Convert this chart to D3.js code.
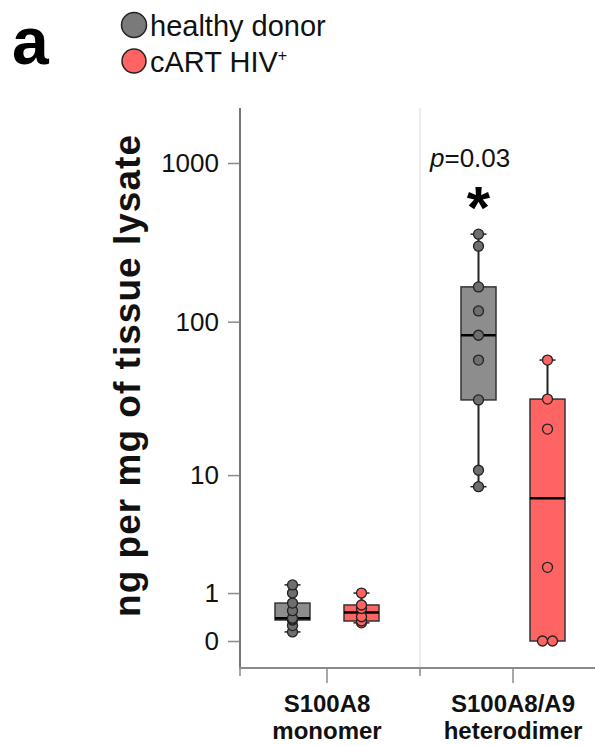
<!DOCTYPE html>
<html>
<head>
<meta charset="utf-8">
<script src="https://cdn.jsdelivr.net/npm/d3@7"></script>
<style>
  body { margin: 0; background: #fff; }
  svg { display: block; font-family: "Liberation Sans", Arial, Helvetica, sans-serif; }
</style>
</head>
<body>
<svg id="chart" width="595" height="746"></svg>
<script>
// ---- data ----
const categories = ["S100A8 monomer", "S100A8/A9 heterodimer"];
const categoryLines = [["S100A8", "monomer"], ["S100A8/A9", "heterodimer"]];
const groups = ["healthy donor", "cART HIV+"];
// ng per mg of tissue lysate, one array per category
const healthyValues = [
  [0.14, 0.25, 0.355, 0.37, 0.39, 0.55, 0.73, 1.0, 1.25],
  [8.3, 10.8, 31.6, 57, 82, 117, 166, 300, 357]
];
const hivValues = [
  [0.3, 0.335, 0.42, 0.6, 0.683, 1.0],
  [0, 0, 1.9, 20.4, 32, 57]
];
const yTicks = [0, 1, 10, 100, 1000];
const pLabel = "0.03";

// ---- styles ----
const fills = { box: ["#8d8d8d", "#ff6464"], dot: ["#6e6e6e", "#ff6464"] };
const axisColor = "#8a8a8a";

const svg = d3.select("#chart");

// symlog y scale (constant 1)
const y = d3.scaleSymlog().constant(1).domain([0, 1000]).range([641, 163]);
const yTop = 108, yBottom = 668, xLeft = 240;

// band scales for categories and the two groups within each
const x = d3.scaleBand().domain(categories).range([234, 606]).paddingInner(0).paddingOuter(0);
const xg = d3.scaleBand().domain(groups).range([-69, 69]);

// divider between the categories
svg.append("line")
  .attr("x1", x(categories[1])).attr("x2", x(categories[1]))
  .attr("y1", yTop).attr("y2", yBottom)
  .attr("stroke", "#dcdcdc").attr("stroke-width", 1);

// y axis
const yAxis = svg.append("g").attr("transform", `translate(${xLeft - 1},0)`)
  .call(d3.axisLeft(y).tickValues(yTicks).tickFormat(d3.format("d")).tickSize(11).tickPadding(9));
yAxis.select(".domain").remove();
yAxis.selectAll(".tick line").attr("stroke", axisColor).attr("stroke-width", 1.5);
yAxis.selectAll(".tick text")
  .attr("fill", "#111").attr("font-size", 26)
  .attr("font-family", "'Liberation Sans', Arial, sans-serif");

svg.append("line")
  .attr("x1", xLeft).attr("x2", xLeft).attr("y1", yTop).attr("y2", yBottom + 1)
  .attr("stroke", "#777").attr("stroke-width", 2);

// x axis
svg.append("line")
  .attr("x1", xLeft - 1).attr("x2", 595).attr("y1", yBottom).attr("y2", yBottom)
  .attr("stroke", axisColor).attr("stroke-width", 2);
const edgeTicks = [xLeft, x(categories[1])];
svg.selectAll(".edge-tick").data(edgeTicks).join("line")
  .attr("x1", d => d).attr("x2", d => d)
  .attr("y1", yBottom).attr("y2", yBottom + 8)
  .attr("stroke", axisColor).attr("stroke-width", 1.5);
svg.selectAll(".center-tick").data(categories).join("line")
  .attr("x1", d => x(d) + x.bandwidth() / 2).attr("x2", d => x(d) + x.bandwidth() / 2)
  .attr("y1", yBottom).attr("y2", yBottom + 15)
  .attr("stroke", axisColor).attr("stroke-width", 1.5);

// category labels
categories.forEach((c, i) => {
  const t = svg.append("text")
    .attr("x", x(c) + x.bandwidth() / 2).attr("y", 712)
    .attr("text-anchor", "middle").attr("font-weight", "bold")
    .attr("font-size", 24).attr("fill", "#111");
  categoryLines[i].forEach((line, j) => {
    t.append("tspan").attr("x", x(c) + x.bandwidth() / 2).attr("dy", j ? 27 : 0).text(line);
  });
});

// y axis title
svg.append("text")
  .attr("transform", "translate(140,376) rotate(-90)")
  .attr("text-anchor", "middle").attr("font-weight", "bold")
  .attr("font-size", 37).attr("fill", "#111")
  .attr("textLength", 482).attr("lengthAdjust", "spacing")
  .text("ng per mg of tissue lysate");

// box statistics (Tukey hinges, computed on the symlog-transformed values)
const tf = v => Math.sign(v) * Math.log1p(Math.abs(v));
const itf = t => Math.sign(t) * Math.expm1(Math.abs(t));
function stats(values) {
  const ts = values.map(tf).sort(d3.ascending);
  const n = ts.length;
  const lower = ts.slice(0, Math.ceil(n / 2));
  const upper = ts.slice(Math.floor(n / 2));
  return {
    min: itf(ts[0]), max: itf(ts[n - 1]),
    q1: itf(d3.median(lower)), med: itf(d3.median(ts)), q3: itf(d3.median(upper))
  };
}

const series = [healthyValues, hivValues];
const boxW = 35, capW = 16, r = 5;

categories.forEach((c, ci) => {
  groups.forEach((g, gi) => {
    const vals = series[gi][ci];
    const s = stats(vals);
    const cx = x(c) + x.bandwidth() / 2 + xg(g) + xg.bandwidth() / 2;
    const grp = svg.append("g");

    // whiskers
    grp.append("line").attr("x1", cx).attr("x2", cx)
      .attr("y1", y(s.max)).attr("y2", y(s.min))
      .attr("stroke", "#222").attr("stroke-width", 2);
    [s.min, s.max].forEach(v => {
      grp.append("line").attr("x1", cx - capW / 2).attr("x2", cx + capW / 2)
        .attr("y1", y(v)).attr("y2", y(v))
        .attr("stroke", "#222").attr("stroke-width", 1.5);
    });

    // box
    grp.append("rect")
      .attr("x", cx - boxW / 2).attr("width", boxW)
      .attr("y", y(s.q3)).attr("height", y(s.q1) - y(s.q3))
      .attr("fill", fills.box[gi]).attr("stroke", "#333").attr("stroke-width", 1.5);
    grp.append("line")
      .attr("x1", cx - boxW / 2).attr("x2", cx + boxW / 2)
      .attr("y1", y(s.med)).attr("y2", y(s.med))
      .attr("stroke", "#000").attr("stroke-width", 2.5);

    // points; identical values are spread side by side
    const counts = d3.rollup(vals, v => v.length, d => d);
    const seen = new Map();
    const pts = vals.map(v => {
      const k = counts.get(v);
      const i = seen.get(v) || 0;
      seen.set(v, i + 1);
      return { v, dx: (i - (k - 1) / 2) * 2 * r };
    });
    grp.selectAll("circle").data(pts).join("circle")
      .attr("cx", d => cx + d.dx).attr("cy", d => y(d.v)).attr("r", r)
      .attr("fill", fills.dot[gi]).attr("stroke", "#222").attr("stroke-width", 1.3);
  });
});

// significance annotation above the heterodimer pair
const hetCenter = x(categories[1]) + x.bandwidth() / 2;
const pText = svg.append("text").attr("x", 430).attr("y", 167)
  .attr("font-size", 26).attr("fill", "#111");
pText.append("tspan").attr("font-style", "italic").text("p");
pText.append("tspan").text("=" + pLabel);
svg.append("text")
  .attr("x", hetCenter + xg(groups[0]) + xg.bandwidth() / 2).attr("y", 228)
  .attr("text-anchor", "middle").attr("font-weight", "bold")
  .attr("font-size", 60).attr("fill", "#000").text("*");

// panel letter
svg.append("text").attr("x", 12).attr("y", 64)
  .attr("font-size", 66).attr("font-weight", "bold").attr("fill", "#000").text("a");

// legend
const legend = svg.append("g");
groups.forEach((g, i) => {
  const cy = i ? 61 : 25;
  legend.append("circle").attr("cx", 134).attr("cy", cy).attr("r", i ? 12 : 12.5)
    .attr("fill", i ? fills.dot[1] : "#7a7a7a").attr("stroke", "#222").attr("stroke-width", 1.5);
  const t = legend.append("text").attr("x", 150).attr("y", i ? 72 : 36)
    .attr("font-size", 29).attr("fill", "#111");
  if (i) {
    t.append("tspan").text("cART HIV");
    t.append("tspan").attr("font-size", 16).attr("dy", -11).text("+");
  } else {
    t.text(g);
  }
});
</script>
</body>
</html>
